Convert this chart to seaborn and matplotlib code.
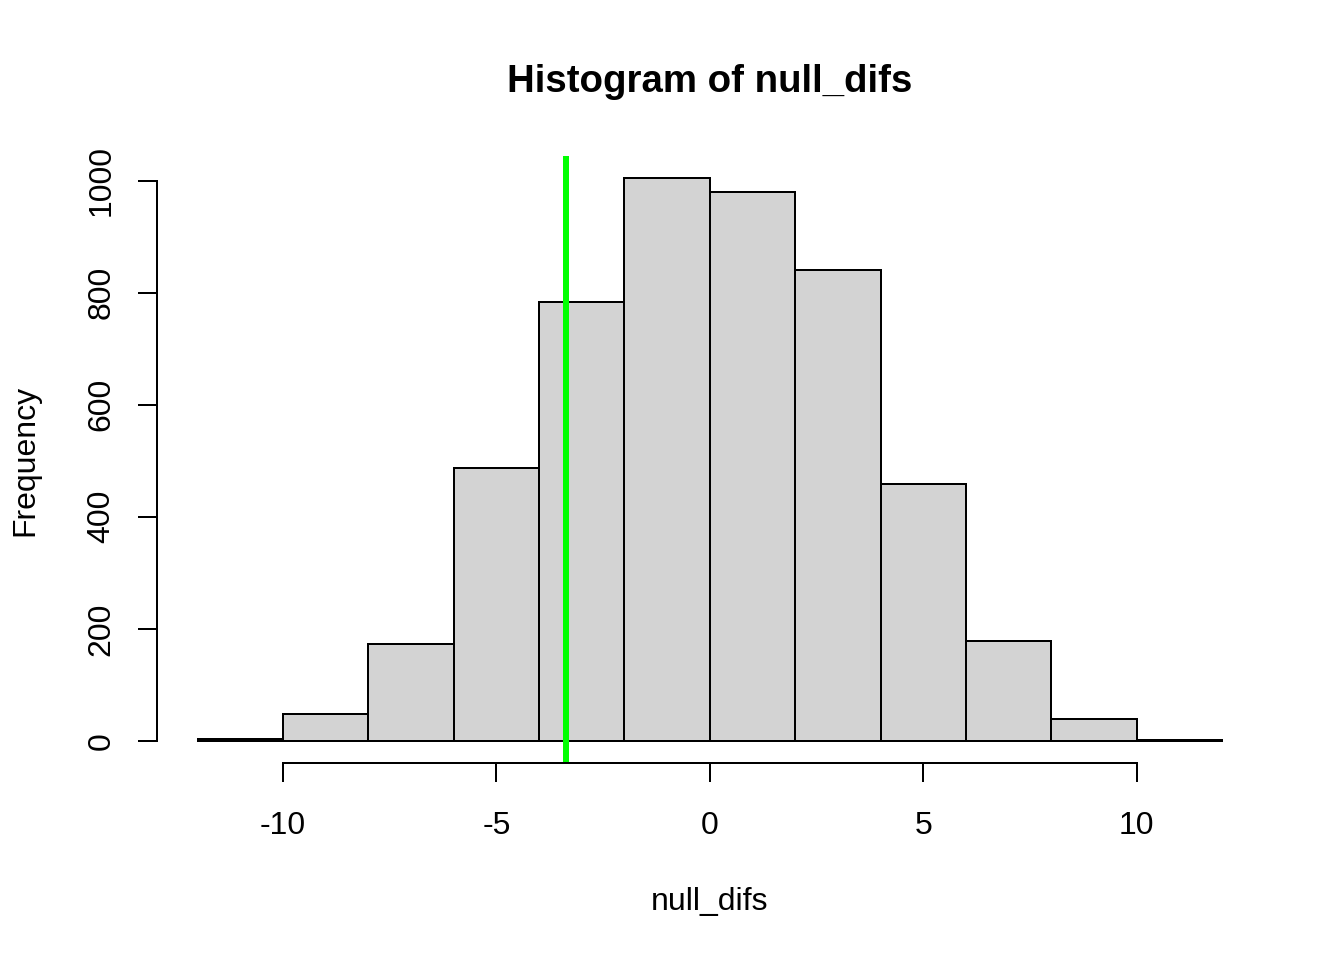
import numpy as np
import seaborn as sns
import matplotlib.pyplot as plt

# Bin edges and counts
bin_edges = [-12, -10, -8, -6, -4, -2, 0, 2, 4, 6, 8, 10, 12]
bin_counts = [4, 48, 173, 487, 784, 1004, 980, 841, 459, 179, 39, 2]
obs_diff = -3.37
x_ticks = [-10, -5, 0, 5, 10]
y_ticks = [0, 200, 400, 600, 800, 1000]

centers = [(a + b) / 2 for a, b in zip(bin_edges[:-1], bin_edges[1:])]

sns.set_style("white")
plt.rcParams['font.family'] = ['Liberation Sans', 'DejaVu Sans']
plt.rcParams['text.color'] = 'black'

fig = plt.figure(figsize=(7, 5), dpi=192)
ax = fig.add_axes([0.1165, 0.2047, 0.9397 - 0.1165, 0.8377 - 0.2047])

sns.histplot(x=centers, weights=bin_counts, bins=bin_edges, ax=ax,
             color='#d3d3d3', edgecolor='black', linewidth=0.75, alpha=1)

ax.axvline(obs_diff, color='#00ff00', linewidth=2.25)

# R-style axes: 4% padding, detached axis lines
ax.set_xlim(-12 - 0.04 * 24, 12 + 0.04 * 24)
ymax = max(bin_counts)
ax.set_ylim(-0.04 * ymax, ymax * 1.04)

for side in ['top', 'right']:
    ax.spines[side].set_visible(False)
for side in ['bottom', 'left']:
    ax.spines[side].set_linewidth(0.75)
    ax.spines[side].set_color('black')
ax.spines['bottom'].set_bounds(-10, 10)
ax.spines['left'].set_bounds(0, 1000)

ax.set_xticks(x_ticks)
ax.set_xticklabels([str(t) for t in x_ticks])
ax.set_yticks(y_ticks)
ax.set_yticklabels([str(t) for t in y_ticks], rotation=90, va='center')
ax.tick_params(axis='both', direction='out', length=7.2, width=0.75,
               labelsize=12, colors='black', bottom=True, left=True)
ax.tick_params(axis='x', pad=10.5)
ax.tick_params(axis='y', pad=7.9)

ax.set_xlabel('')
ax.set_ylabel('')

fig.text(0.5283, 1 - 82 / 960, 'Histogram of null_difs', ha='center', va='center',
         fontsize=14.4, fontweight='bold', color='black')
fig.text(0.5283, 1 - 902 / 960, 'null_difs', ha='center', va='center',
         fontsize=12, color='black')
fig.text(25 / 1344, 1 - 460 / 960, 'Frequency', ha='center', va='center',
         rotation=90, fontsize=12, color='black')

fig.savefig('out.png', dpi=192)
